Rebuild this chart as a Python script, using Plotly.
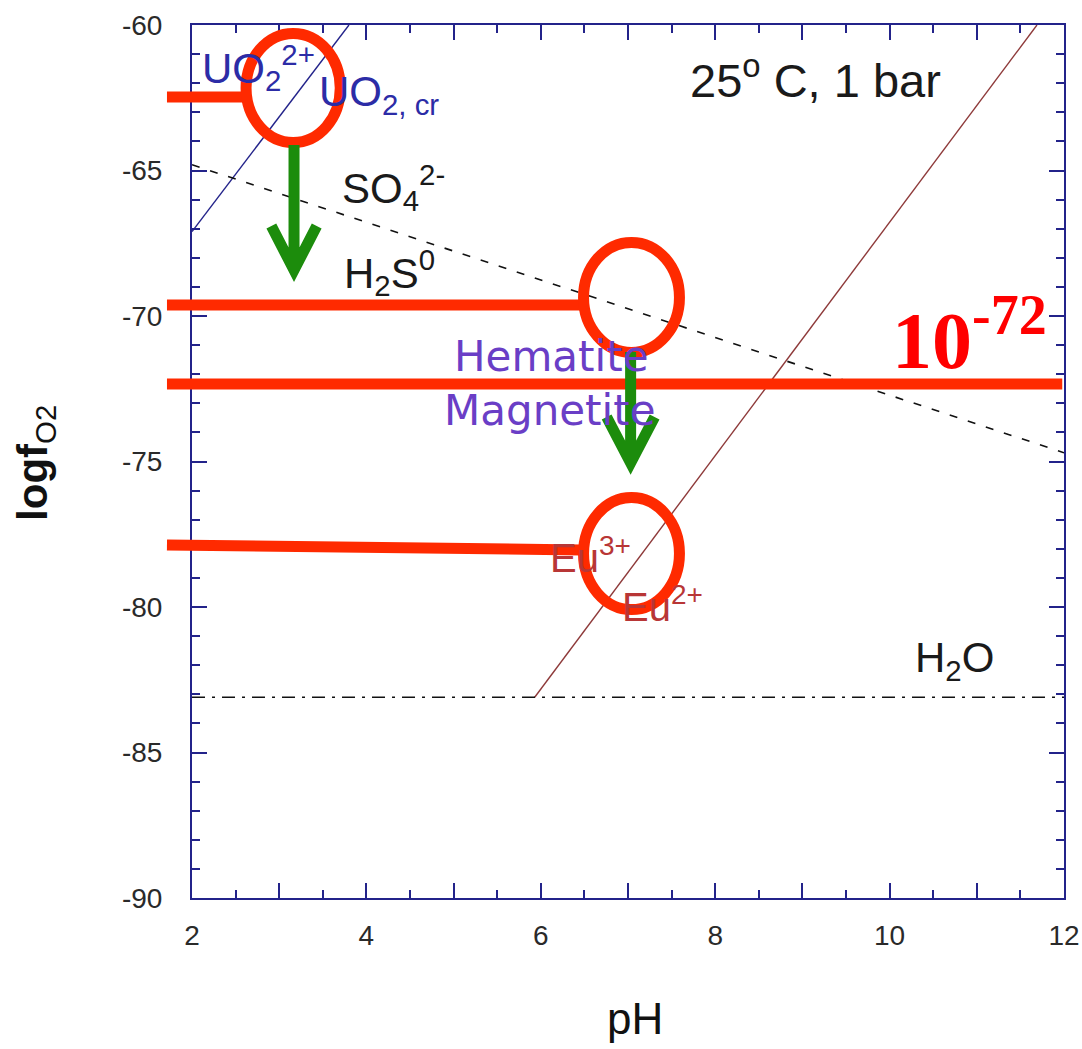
import plotly.graph_objects as go

# ---------------- data (pH vs log fO2) ----------------
X_RANGE = [2, 12]
Y_RANGE = [-90, -60]

uo2_ph = [2.0, 3.8]
uo2_logf = [-67.1, -60.0]

sulfur_ph = [2.0, 12.0]
sulfur_logf = [-64.8, -74.7]

eu_ph = [5.93, 11.69]
eu_logf = [-83.1, -60.0]

water_ph = [2.0, 12.0]
water_logf = [-83.1, -83.1]

x_tickvals = [2, 3, 4, 5, 6, 7, 8, 9, 10, 11, 12]
x_ticktext = ["2", "", "4", "", "6", "", "8", "", "10", "", "12"]
y_tickvals = [-90, -85, -80, -75, -70, -65, -60]
y_ticktext = ["-90", "-85", "-80", "-75", "-70", "-65", "-60"]

# species labels: text, pH, logf, color, size
label_text = ["UO<sub>2</sub><sup>2+</sup>", "UO<sub>2, cr</sub>", "25<sup>o</sup> C, 1 bar",
              "SO<sub>4</sub><sup>2-</sup>", "H<sub>2</sub>S<sup>0</sup>",
              "Hematite", "Magnetite", "Eu<sup>3+</sup>", "Eu<sup>2+</sup>", "H<sub>2</sub>O"]
label_ph = [2.76, 4.14, 9.15, 4.31, 4.27, 6.12, 6.10, 6.57, 7.39, 10.74]
label_logf = [-61.45, -62.4, -61.8, -65.6, -68.5, -71.4, -73.25, -78.2, -79.9, -81.85]
label_color = ["#2c2ca6", "#2c2ca6", "#1a1a1a", "#1a1a1a", "#1a1a1a",
               "#6a3ec6", "#6a3ec6", "#b83636", "#b83636", "#1a1a1a"]
label_size = [42, 42, 47, 42, 42, 42, 42, 40, 40, 42]

# overlay marks (hand-drawn highlights)
red_line_ph0 = [1.713, 1.713, 1.713, 1.713]
red_line_logf0 = [-62.47, -69.62, -72.34, -77.87]
red_line_ph1 = [2.61, 6.47, 11.98, 6.47]
red_line_logf1 = [-62.47, -69.62, -72.34, -78.04]

ellipse_ph0 = [2.62, 6.49, 6.49]
ellipse_ph1 = [3.70, 7.59, 7.59]
ellipse_logf0 = [-64.04, -71.25, -80.09]
ellipse_logf1 = [-60.29, -67.47, -76.24]

arrow_ph = [3.17, 7.03]
arrow_top = [-64.12, -71.24]
arrow_tip = [-68.42, -75.05]
arrow_arm_logf = [-66.91, -73.47]
arrow_arm_dph = [0.26, 0.275]

big_label_text = "10<sup>-72</sup>"
big_label_ph = 10.92
big_label_logf = -70.62

# ---------------- styling ----------------
NAVY = "#23238a"
RED = "#ff2a00"
GREEN = "#1c8c0c"
FONT = "Liberation Sans, Arial, sans-serif"
WIDE_FONT = "DejaVu Sans, Verdana, sans-serif"


def to_paper_x(ph):
    return (ph - X_RANGE[0]) / (X_RANGE[1] - X_RANGE[0])


def to_paper_y(v):
    return (v - Y_RANGE[0]) / (Y_RANGE[1] - Y_RANGE[0])


fig = go.Figure()

fig.add_trace(go.Scatter(x=uo2_ph, y=uo2_logf, mode="lines",
                         line=dict(color=NAVY, width=1.4), showlegend=False))
fig.add_trace(go.Scatter(x=sulfur_ph, y=sulfur_logf, mode="lines",
                         line=dict(color="#111111", width=1.6, dash="8px,11px"), showlegend=False))
fig.add_trace(go.Scatter(x=eu_ph, y=eu_logf, mode="lines",
                         line=dict(color="#8e3a3a", width=1.4), showlegend=False))
fig.add_trace(go.Scatter(x=water_ph, y=water_logf, mode="lines",
                         line=dict(color="#111111", width=1.6, dash="13px,7px,3px,7px"), showlegend=False))

annotations = []
for t, px, py, c, s in zip(label_text, label_ph, label_logf, label_color, label_size):
    fam = WIDE_FONT if t in ("Hematite", "Magnetite") else FONT
    annotations.append(dict(x=px, y=py, xref="x", yref="y", text=t, showarrow=False,
                            font=dict(family=fam, size=s, color=c)))

annotations.append(dict(x=big_label_ph, y=big_label_logf, xref="x", yref="y", text=big_label_text,
                        showarrow=False,
                        font=dict(family="Liberation Serif, Times New Roman, serif", size=80,
                                  color="#ff0000", weight="bold")))

# axis titles
annotations.append(dict(x=0.508, y=-0.168, xref="paper", yref="paper", text="pH", showarrow=False,
                        font=dict(family=FONT, size=44, color="#111111")))
annotations.append(dict(x=-0.212, y=0.498, xref="paper", yref="paper", text="<b>logf</b><sub>O2</sub>",
                        showarrow=False, textangle=-90,
                        font=dict(family=FONT, size=42, color="#111111")))

shapes = []
for x0, y0, x1, y1 in zip(red_line_ph0, red_line_logf0, red_line_ph1, red_line_logf1):
    shapes.append(dict(type="line", xref="paper", yref="paper",
                       x0=to_paper_x(x0), y0=to_paper_y(y0), x1=to_paper_x(x1), y1=to_paper_y(y1),
                       line=dict(color=RED, width=11)))
for x0, x1, y0, y1 in zip(ellipse_ph0, ellipse_ph1, ellipse_logf0, ellipse_logf1):
    shapes.append(dict(type="circle", xref="x", yref="y", x0=x0, x1=x1, y0=y0, y1=y1,
                       line=dict(color=RED, width=11)))
for ph, top, tip, arm, dph in zip(arrow_ph, arrow_top, arrow_tip, arrow_arm_logf, arrow_arm_dph):
    path = (f"M {ph} {top} L {ph} {tip} "
            f"M {ph - dph} {arm} L {ph} {tip} L {ph + dph} {arm}")
    shapes.append(dict(type="path", xref="x", yref="y", path=path,
                       line=dict(color=GREEN, width=11)))

axis_common = dict(showgrid=False, zeroline=False, showline=True, linecolor=NAVY, linewidth=2,
                   mirror="ticks", ticks="inside", tickcolor=NAVY, tickwidth=2, ticklen=15,
                   automargin=False,
                   tickfont=dict(family=FONT, size=28, color="#2a2a2a"))

fig.update_layout(
    width=1082, height=1049,
    margin=dict(l=192, r=18, t=25, b=151, autoexpand=False),
    paper_bgcolor="white", plot_bgcolor="white",
    xaxis=dict(range=X_RANGE, tickmode="array", tickvals=x_tickvals, ticktext=x_ticktext,
               ticklabelstandoff=11,
               minor=dict(dtick=0.5, ticks="inside", ticklen=8, tickcolor=NAVY, tickwidth=2),
               **axis_common),
    yaxis=dict(range=Y_RANGE, tickmode="array", tickvals=y_tickvals, ticktext=y_ticktext,
               ticklabelstandoff=22,
               minor=dict(dtick=1, ticks="inside", ticklen=8, tickcolor=NAVY, tickwidth=2),
               **axis_common),
    annotations=annotations,
    shapes=shapes,
)

fig.write_html("out.html", config={"displayModeBar": False},
               post_script="document.body.style.margin='0';document.body.style.overflow='hidden';")
